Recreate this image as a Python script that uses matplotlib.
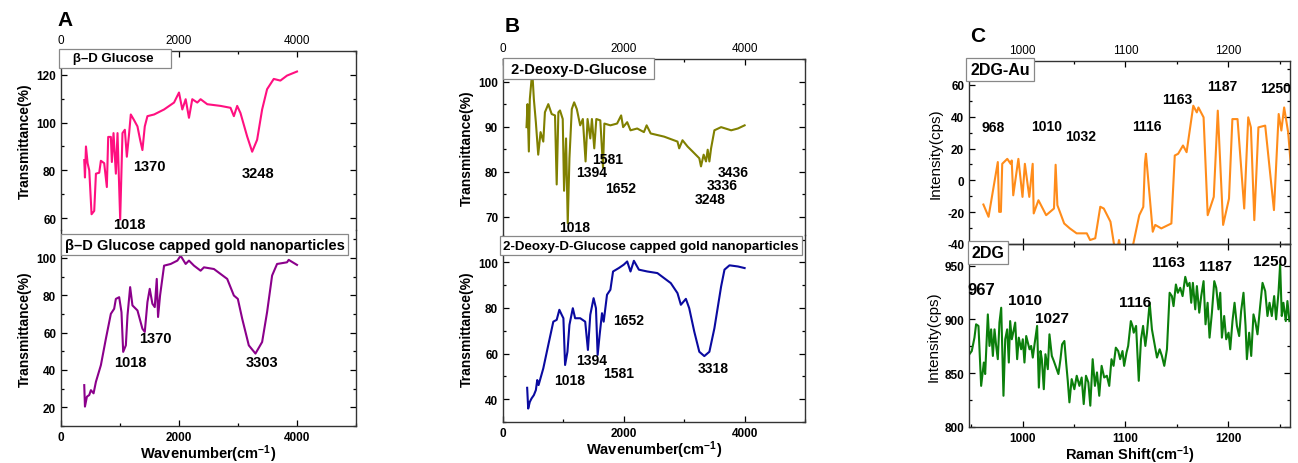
import matplotlib
matplotlib.use("Agg")
import matplotlib.pyplot as plt
from matplotlib.ticker import MultipleLocator

plt.rcParams['font.family'] = ['Liberation Sans', 'DejaVu Sans']
plt.rcParams['mathtext.fontset'] = 'custom'
plt.rcParams['mathtext.bf'] = 'Liberation Sans:bold'
plt.rcParams['mathtext.rm'] = 'Liberation Sans'
plt.rcParams['mathtext.default'] = 'bf'
plt.rcParams['axes.unicode_minus'] = False

# --- A: beta-D glucose FTIR ---
glc_x = [394, 406, 423, 451, 479, 518, 563, 592, 648, 676, 732, 777, 800, 845, 862, 890, 930, 958, 1003, 1042,
         1082, 1116, 1155, 1183, 1239, 1296, 1341, 1380, 1420, 1465, 1578, 1747, 1916, 2000, 2056, 2113, 2169, 2225,
         2310, 2366, 2479, 2704, 2873, 2930, 2986, 3042, 3155, 3240, 3324, 3409, 3493, 3606, 3718, 3831, 4000]
glc_y = [84.3, 77, 90, 83, 80, 61.6, 63, 78.6, 79, 84, 83, 73, 94, 94, 83.5, 95.6, 78.6, 95.6, 59.4, 95.6,
         97, 85.7, 95.6, 103.4, 101, 98.4, 92.8, 88.5, 98.4, 102.7, 103.4, 105.5, 108.4, 112.6, 105.5, 109.8, 102, 109.8,
         108.4, 109.8, 107.7, 107, 106.2, 102.7, 107, 104, 94.2, 87.8, 92.8, 105.5, 114, 118.3, 117.6, 119.7, 121.4]

glc_au_x = [394, 406, 439, 479, 507, 552, 592, 676, 761, 845, 901, 930, 986, 1025, 1054, 1099, 1127, 1172, 1211, 1296,
            1380, 1420, 1465, 1504, 1549, 1589, 1623, 1645, 1679, 1747, 1859, 1972, 2028, 2113, 2169, 2254, 2366, 2423,
            2592, 2817, 2930, 2997, 3071, 3183, 3296, 3409, 3493, 3578, 3662, 3831, 3859, 4000]
glc_au_y = [31.9, 20.4, 25.7, 26.6, 29.2, 27.5, 33.7, 42.6, 56.8, 70.1, 72.8, 78.1, 79, 71, 49.7, 53.2, 69.2, 84.4, 74.6, 71.9,
            62.1, 60.4, 76.4, 83.5, 75.5, 73.7, 88.8, 68.4, 79.9, 95.9, 96.8, 98.6, 101.2, 96.8, 98.6, 95.9, 93.2, 95,
            94.1, 88.8, 79.9, 78.1, 67.5, 53.2, 48.8, 55, 71, 90.6, 96.8, 97.7, 99, 96.3]

# --- B: 2-deoxy-D-glucose FTIR ---
dg_x = [389, 406, 428, 444, 472, 489, 511, 544, 583, 622, 667, 694, 750, 806, 861, 889, 917, 944, 989, 1011,
        1044, 1072, 1100, 1139, 1178, 1222, 1278, 1322, 1367, 1400, 1445, 1472, 1511, 1545, 1611, 1656, 1678, 1778,
        1889, 1956, 1989, 2056, 2111, 2222, 2333, 2378, 2445, 2667, 2889, 2917, 2972, 3056, 3139, 3250, 3278, 3322,
        3361, 3389, 3417, 3445, 3500, 3611, 3778, 3889, 4000]
dg_y = [89.9, 95, 84.5, 96.1, 100.4, 101.2, 96.1, 91, 83.8, 88.8, 86.7, 93.2, 95, 92.8, 92.5, 77.2, 93.2, 93.6, 91.7, 75.8,
        87.4, 68.6, 83, 93.9, 95.4, 93.9, 90.3, 91.7, 82.3, 91.7, 87.4, 91.7, 85.2, 91.7, 91.4, 80.9, 90.7, 90.3,
        90.7, 92.5, 89.9, 91, 89.2, 89.6, 88.8, 90.3, 88.5, 87.8, 86.7, 85.2, 87, 85.6, 84.5, 83, 81.2, 83.8,
        82.3, 84.9, 82.3, 85.2, 89.2, 89.9, 89.2, 89.6, 90.3]

dg_au_x = [400, 417, 444, 472, 511, 544, 567, 589, 667, 750, 833, 889, 933, 972, 1000, 1028, 1067, 1100, 1156, 1194,
           1278, 1361, 1406, 1445, 1500, 1539, 1567, 1600, 1639, 1667, 1722, 1778, 1822, 1917, 2000, 2056, 2111, 2167,
           2250, 2389, 2556, 2778, 2889, 2945, 3028, 3083, 3167, 3250, 3333, 3417, 3500, 3611, 3667, 3750, 3889, 4000]
dg_au_y = [45, 35.9, 38.8, 40.3, 41.8, 44, 48.4, 46.2, 53.5, 63.8, 74, 74.8, 79.2, 77, 75.5, 55, 60.8, 72.6, 79.9, 75.5,
           75.5, 74, 61.6, 77, 84.3, 79.9, 59.4, 68.2, 77.7, 74, 85.8, 88, 96, 97.5, 99, 100.4, 96, 100.7,
           96.8, 96, 95.3, 90.9, 86.5, 81.4, 84, 79.9, 69.6, 60.8, 58.9, 60.8, 71.1, 89.4, 96.8, 98.7, 98.2, 97.5]

# --- C: Raman ---
au_x = [962, 967, 976, 977.3, 979, 980.3, 985.2, 988.5, 989.5, 991, 996, 1000, 1002.3, 1006.6, 1009.9, 1010.9,
        1015.5, 1023, 1030.6, 1032.2, 1033.9, 1040.5, 1046, 1052.6, 1062.5, 1065.7, 1070.7, 1075.6, 1079, 1085.5,
        1088.8, 1091, 1093.8, 1097, 1107, 1113.5, 1117.4, 1119, 1120, 1126.6, 1129, 1134.9, 1144.7, 1148, 1151.3,
        1156, 1159.5, 1166, 1169.4, 1171, 1176, 1180, 1185.9, 1189.8, 1195, 1200.7, 1204, 1209, 1215.5, 1219.4,
        1222, 1225.3, 1229.3, 1235.9, 1244.4, 1249, 1251.6, 1254.3, 1258.2, 1264.8]
au_y = [-15.2, -22.9, 11.5, -19.8, -19.8, 10.4, 13.5, 10.4, 12.5, -9.4, 13.5, -10.4, 10.4, -10.4, 10.4, -20.8,
        -12.5, -21.9, -17.7, 9.8, -15.6, -27.1, -30.2, -33.3, -33.3, -37.5, -36.4, -16.6, -17.7, -26,
        -39.6, -48, -37.5, -50, -42, -21.9, -16.7, 11, 16.7, -32.3, -28, -30.2, -27.1, 15.6, 16.7,
        21.9, 17.7, 46.9, 42.7, 45.8, 39.6, -21.9, -10.4, 43.8, -28, -11.5, 38.5, 38.5, -17.7, 39.6,
        33.3, -25, 33.3, 34.4, -18.7, 41.7, 31.3, 45.8, 30.2, -21.9]

dg_raman_x = [948.4, 950.7, 953.3, 954.9, 957.2, 959.8, 962.4, 963.7, 966.3, 967.9, 969.5, 971.2, 972.8, 974.4, 976,
              977.6, 979.3, 981.5, 983.2, 985.1, 986.7, 988, 989.6, 991.3, 992.9, 994.8, 996.4, 998.7, 1000.3, 1001.9,
              1003.6, 1006.8, 1008.4, 1010, 1011.7, 1014.2, 1015.9, 1017.5, 1018.8, 1020.7, 1022.3, 1024.6, 1026.2,
              1028.5, 1030.4, 1032.7, 1034.9, 1036.9, 1038.5, 1040.7, 1042.4, 1044, 1045.6, 1047.8, 1050.4, 1052.7,
              1055.3, 1057.5, 1059.5, 1061.7, 1064, 1065.9, 1068.2, 1070.4, 1072.4, 1074.6, 1076.9, 1079.4, 1082,
              1084.3, 1086.5, 1088.5, 1090.7, 1093, 1094.9, 1097.2, 1098.8, 1101.1, 1102.7, 1105.3, 1106.9,
              1108.1, 1110.4, 1113, 1115.2, 1117.2, 1119.4, 1121, 1123.6, 1125.8, 1128.1, 1130.7, 1133.3, 1135.5,
              1137.8, 1140.4, 1143, 1145.2, 1146.8, 1149.1, 1151, 1153.3, 1155.6, 1158.2, 1160.4, 1162.4, 1164,
              1165.6, 1167.9, 1169.5, 1171.8, 1173.7, 1176, 1177.9, 1179.9, 1181.8, 1184.1, 1186.4, 1188.3, 1190.5,
              1192.2, 1193.8, 1196, 1198, 1200.3, 1201.9, 1204.1, 1206.1, 1208.4, 1210.6, 1212.5, 1214.8, 1216.8,
              1218.1, 1220.3, 1222.3, 1224.5, 1226.5, 1228.4, 1231, 1233.3, 1235.9, 1238.1, 1240.1, 1242.3, 1244.6,
              1246.5, 1248.8, 1250.4, 1252, 1253.6, 1255.9, 1257.5, 1259.4]
dg_raman_y = [867.6, 870.6, 883, 895.4, 893.9, 838.2, 859.9, 849.2, 904.6, 875.3, 890.7, 866, 890.7, 875.3, 863,
              897, 910.8, 829, 881.5, 890.7, 859.9, 898.4, 881.5, 889.2, 897, 863, 883, 872.2, 881.5, 859.9,
              884.5, 872.2, 875.3, 864.5, 876.8, 893.9, 836.6, 870.6, 863, 835.1, 867.6, 853.7, 886.1,
              866, 861.4, 855.3, 849.2, 863, 876.8, 879.9, 859.9, 842.9, 822.9, 844.5, 835.1, 847.6,
              838.2, 846, 821.3, 847.6, 841.4, 819.8, 863, 838.2, 850.7, 829, 856.8, 846, 847.6,
              838.2, 863, 856.8, 873.7, 870.6, 863, 870.6, 856.8, 869.1, 875.3, 898.4, 893.9,
              887.6, 893.9, 842.9, 881.5, 893.9, 875.3, 887.6, 915.4, 890.7, 878.4, 864.5, 872.2, 866,
              856.8, 872.2, 924.7, 921.6, 912.3, 932.4, 924.7, 929.3, 921.6, 939.5, 930.9, 933.9, 915.4,
              933.9, 909.3, 930.9, 906.2, 921.6, 935.5, 895.4, 915.4, 883, 906.2, 935.5, 929.3, 909.3,
              924.7, 883, 903.1, 881.5, 887.6, 872.2, 898.4, 915.4, 893.9, 884.5, 907.7, 924.7, 893.9,
              863, 887.6, 866, 904.6, 896.9, 886.1, 912.3, 933.9, 926.2, 903.1, 915.4, 903.1, 921.6,
              900, 924.7, 950.9, 903.1, 915.4, 898.4, 917, 898.4]

# peak labels (text, x, y)
glc_peaks = [("1370", 1504, 81.8), ("1018", 1160, 57.5), ("3248", 3335, 78.9)]
glc_au_peaks = [("1370", 1594, 57.3), ("1018", 1183, 44.4), ("3303", 3414, 44.4)]
dg_peaks = [("1581", 1728, 82.8), ("1394", 1472, 80), ("1652", 1945, 76.4), ("3436", 3817, 79.9),
            ("3336", 3628, 77.1), ("3248", 3428, 74), ("1018", 1189, 67.8)]
dg_au_peaks = [("1652", 2083, 74.8), ("1394", 1472, 57.2), ("1581", 1917, 51.7), ("1018", 1111, 48.4),
               ("3318", 3472, 53.5)]
au_peaks = [("968", 971, 33.3), ("1010", 1023, 34), ("1032", 1056.6, 27.7), ("1116", 1121, 34.4),
            ("1163", 1150, 51), ("1187", 1194, 59.4), ("1250", 1246, 58.3)]
dg_raman_peaks = [("967", 960, 927.8), ("1010", 1002.3, 917.9), ("1027", 1028.8, 901.5), ("1116", 1109, 916),
                  ("1163", 1141.7, 953), ("1187", 1188, 950), ("1250", 1240.5, 954)]

W, H = 1298, 464
fig = plt.figure(figsize=(W / 100, H / 100), dpi=100)


def box(l, t, r, b):
    return [l / W, 1 - b / H, (r - l) / W, (b - t) / H]


def style(ax, xmaj, xmin, ymaj, ymin):
    ax.xaxis.set_major_locator(MultipleLocator(xmaj))
    ax.xaxis.set_minor_locator(MultipleLocator(xmin))
    ax.yaxis.set_major_locator(MultipleLocator(ymaj))
    ax.yaxis.set_minor_locator(MultipleLocator(ymin))
    ax.tick_params(which='both', direction='in', top=True, right=True, labelsize=8.5)
    ax.tick_params(which='major', length=4, width=0.9)
    ax.tick_params(which='minor', length=2.5, width=0.9)
    for lab in ax.get_xticklabels() + ax.get_yticklabels():
        lab.set_fontweight('bold')
    for s in ax.spines.values():
        s.set_color('#333333')
        s.set_linewidth(1.0)
    ax.patch.set_alpha(0)


def tag(ax, text, x=0.004, y=0.995, fs=9):
    ax.text(x, y, text, transform=ax.transAxes, ha='left', va='top', fontsize=fs, fontweight='bold',
            bbox=dict(boxstyle='square,pad=0.25', fc='white', ec='#888888', lw=0.9), zorder=5)


def peaks(ax, items, fs=10.5):
    for t, x, y in items:
        ax.text(x, y, t, ha='center', va='center', fontsize=fs, fontweight='bold', clip_on=False, zorder=6)


# ---- panel A ----
a1 = fig.add_axes(box(61, 52, 356, 231))
a2 = fig.add_axes(box(61, 231, 356, 427))
a1.plot(glc_x, glc_y, color='#FF1080', lw=1.5)
a2.plot(glc_au_x, glc_au_y, color='#8B008B', lw=1.5)
for ax in (a1, a2):
    ax.set_xlim(0, 5000)
    style(ax, 2000, 1000, 20, 10)
a1.set_ylim(55, 130)
a2.set_ylim(10, 115)
a1.spines['bottom'].set_visible(False)
a2.spines['top'].set_visible(False)
a1.tick_params(axis='x', which='both', bottom=False, labelbottom=False, labeltop=True)
a2.tick_params(axis='x', which='both', top=False)
a2.set_xticks([0, 2000, 4000])
a1.set_xticks([0, 2000, 4000])
tag(a1, "   \u03b2\u2013D Glucose    ", x=0.003, y=0.993, fs=9.5)
tag(a2, "\u03b2\u2013D Glucose capped gold nanoparticles", x=0.012, y=0.96, fs=10.5)
peaks(a1, glc_peaks)
peaks(a2, glc_au_peaks)
for ax in (a1, a2):
    ax.set_ylabel("Transmittance(%)", fontsize=10, fontweight='bold', labelpad=3)
a2.set_xlabel(r"Wavenumber(cm$^{-1}$)", fontsize=10.5, fontweight='bold', labelpad=0)
fig.text(57 / W, 1 - 20 / H, "A", fontsize=15, fontweight='bold', ha='left', va='center')

# ---- panel B ----
b1 = fig.add_axes(box(503, 60, 805, 236))
b2 = fig.add_axes(box(503, 236, 805, 423))
b1.plot(dg_x, dg_y, color='#808000', lw=1.5)
b2.plot(dg_au_x, dg_au_y, color='#0A0AA0', lw=1.5)
for ax in (b1, b2):
    ax.set_xlim(0, 5000)
b1.set_ylim(66, 105)
b2.set_ylim(30, 112)
style(b1, 2000, 1000, 10, 5)
style(b2, 2000, 1000, 20, 10)
b1.spines['bottom'].set_visible(False)
b2.spines['top'].set_visible(False)
b1.tick_params(axis='x', which='both', bottom=False, labelbottom=False, labeltop=True)
b2.tick_params(axis='x', which='both', top=False)
b1.set_xticks([0, 2000, 4000])
b2.set_xticks([0, 2000, 4000])
tag(b1, " 2-Deoxy-D-Glucose ", x=0.012, y=0.985, fs=10.5)
tag(b2, "2-Deoxy-D-Glucose capped gold nanoparticles", x=0.0, y=0.975, fs=9.6)
peaks(b1, dg_peaks, fs=10)
peaks(b2, dg_au_peaks, fs=10)
for ax in (b1, b2):
    ax.set_ylabel("Transmittance(%)", fontsize=10, fontweight='bold', labelpad=3)
b2.set_xlabel(r"Wavenumber(cm$^{-1}$)", fontsize=10.5, fontweight='bold', labelpad=0)
fig.text(505 / W, 1 - 27 / H, "B", fontsize=15, fontweight='bold', ha='left', va='center')

# ---- panel C ----
c1 = fig.add_axes(box(969, 62, 1290, 245))
c2 = fig.add_axes(box(969, 245, 1290, 428))
c1.plot(au_x, au_y, color='#FF8C1A', lw=1.5)
c2.plot(dg_raman_x, dg_raman_y, color='#0B7F0B', lw=1.5)
for ax in (c1, c2):
    ax.set_xlim(948, 1260)
c1.set_ylim(-40, 75)
c2.set_ylim(800, 970)
style(c1, 100, 50, 20, 10)
style(c2, 100, 50, 50, 25)
c1.tick_params(axis='x', which='both', labelbottom=False, labeltop=True)
tag(c1, "2DG-Au", x=0.004, y=0.992, fs=11.5)
tag(c2, "2DG", x=0.008, y=0.995, fs=11.5)
peaks(c1, au_peaks, fs=10)
peaks(c2, dg_raman_peaks[:1], fs=12)
peaks(c2, dg_raman_peaks[1:], fs=11)
for ax in (c1, c2):
    ax.set_ylabel("Intensity(cps)", fontsize=11, labelpad=3)
c2.set_xlabel(r"Raman Shift(cm$^{-1}$)", fontsize=10.5, fontweight='bold', labelpad=0)
fig.text(970 / W, 1 - 36 / H, "C", fontsize=15, fontweight='bold', ha='left', va='center')

fig.savefig("out.png", dpi=100)
